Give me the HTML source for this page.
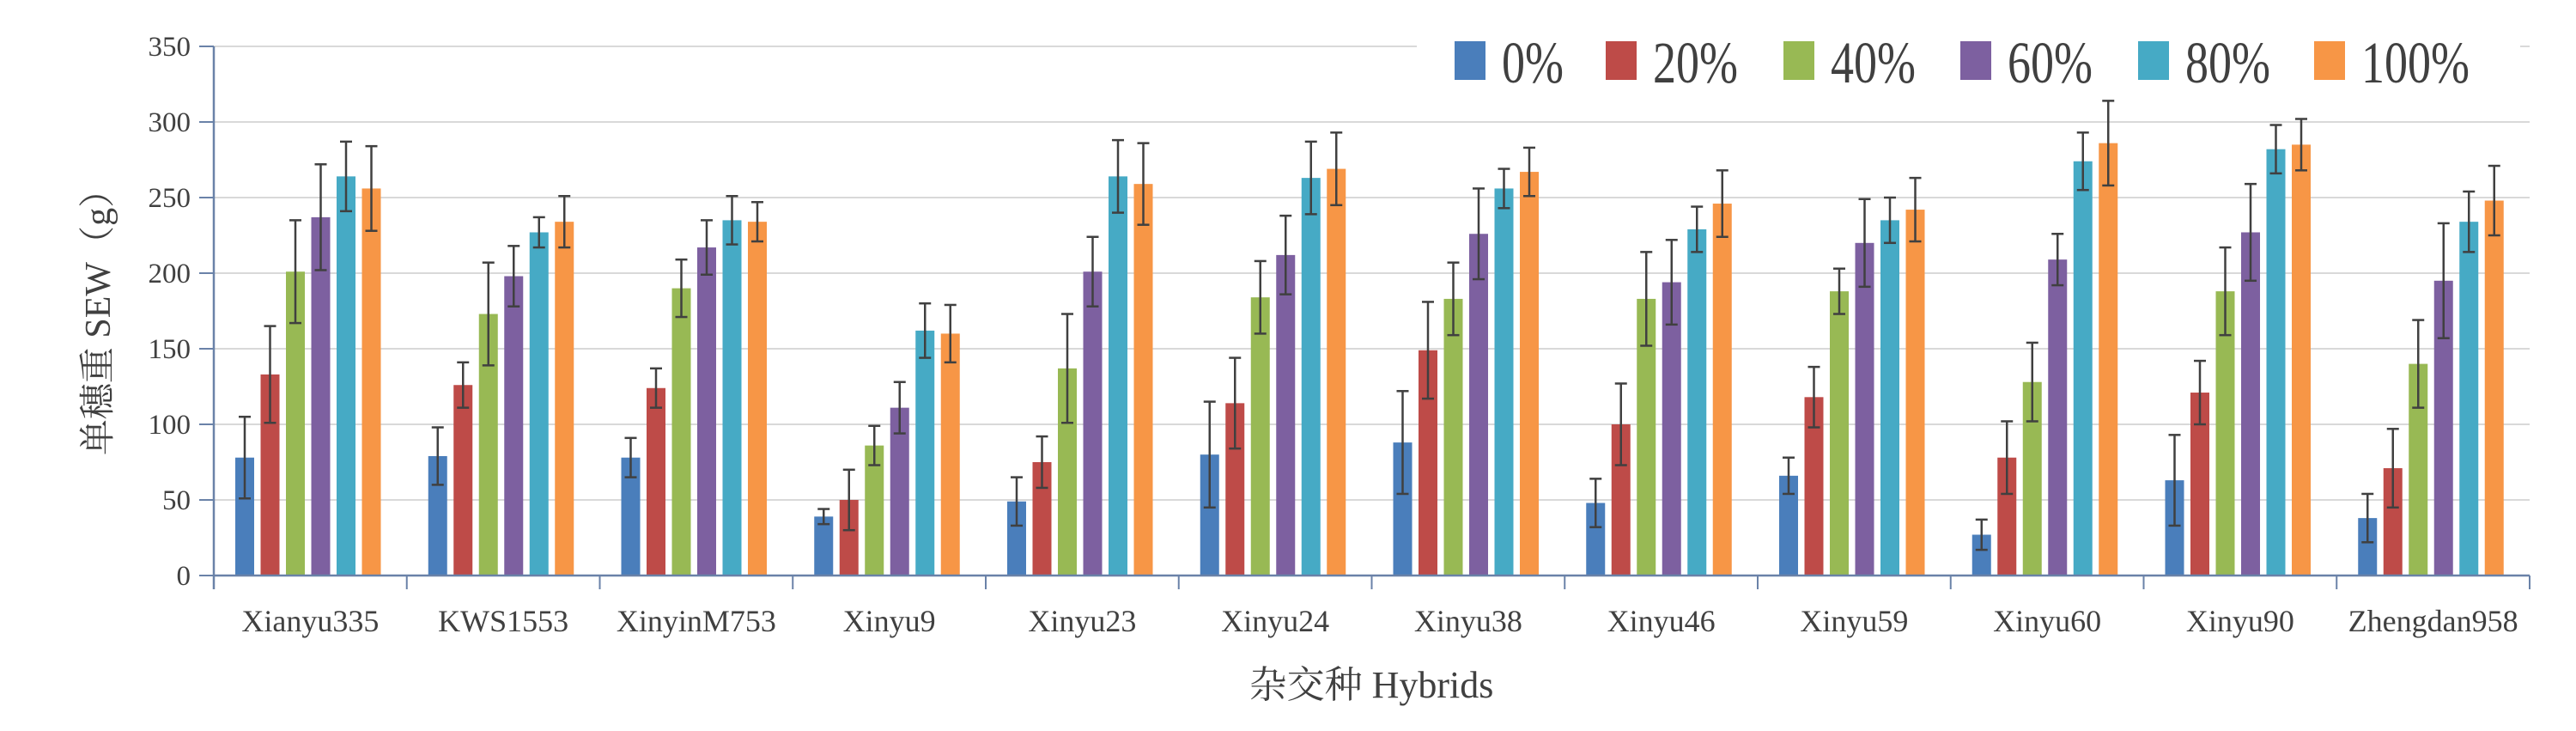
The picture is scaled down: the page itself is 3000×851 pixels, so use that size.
<!DOCTYPE html>
<html><head><meta charset="utf-8"><style>
html,body{margin:0;padding:0;background:#fff;}
svg{display:block;}
text{font-family:"Liberation Serif","Noto Serif CJK SC","Noto Sans CJK SC",serif;fill:#404040;}
</style></head><body>
<svg id="chart" width="3000" height="851" viewBox="0 0 3000 851" xmlns="http://www.w3.org/2000/svg">
<g id="grid"></g>
<g id="bars"></g>
<g id="axes"></g>
<text x="0" y="0" font-size="42" text-anchor="middle" transform="translate(128,365) rotate(-90)">单穗重 SEW（g）</text>
<text x="1597" y="812" font-size="44" text-anchor="middle">杂交种 Hybrids</text>
<g id="legend"></g>
</svg>
<script>
const categories = ["Xianyu335","KWS1553","XinyinM753","Xinyu9","Xinyu23","Xinyu24","Xinyu38","Xinyu46","Xinyu59","Xinyu60","Xinyu90","Zhengdan958"];
const seriesNames = ["0%","20%","40%","60%","80%","100%"];
const s0 = [78,79,78,39,49,80,88,48,66,27,63,38];
const s20 = [133,126,124,50,75,114,149,100,118,78,121,71];
const s40 = [201,173,190,86,137,184,183,183,188,128,188,140];
const s60 = [237,198,217,111,201,212,226,194,220,209,227,195];
const s80 = [264,227,235,162,264,263,256,229,235,274,282,234];
const s100 = [256,234,234,160,259,269,267,246,242,286,285,248];
const e0 = [27,19,13,5,16,35,34,16,12,10,30,16];
const e20 = [32,15,13,20,17,30,32,27,20,24,21,26];
const e40 = [34,34,19,13,36,24,24,31,15,26,29,29];
const e60 = [35,20,18,17,23,26,30,28,29,17,32,38];
const e80 = [23,10,16,18,24,24,13,15,15,19,16,20];
const e100 = [28,17,13,19,27,24,16,22,21,28,17,23];
const yTicks = [0,50,100,150,200,250,300,350];

const series=[s0,s20,s40,s60,s80,s100];
const errs=[e0,e20,e40,e60,e80,e100];
const colors=["#4a7ebb","#be4b48","#98b954","#7d60a0","#46aac5","#f79646"];
const NS="http://www.w3.org/2000/svg";
const X0=249,X1=2946,Y0=670,YMAX=350,PH=616;
const gw=(X1-X0)/categories.length;
const y=v=>Y0-v/YMAX*PH;
const xg=i=>X0+i*gw;
function mk(tag,attrs,parent){const e=document.createElementNS(NS,tag);for(const k in attrs)e.setAttribute(k,attrs[k]);parent.appendChild(e);return e;}
const grid=document.getElementById('grid'),bars=document.getElementById('bars'),axes=document.getElementById('axes'),legend=document.getElementById('legend');
yTicks.forEach(t=>{
  if(t>0){const l=mk('line',{x1:X0,x2:X1,y1:y(t),y2:y(t),stroke:'#d9d9d9','stroke-width':2},grid);
  
  }
  const tk=mk('line',{x1:232,x2:X0,y1:y(t),y2:y(t),stroke:'#6a82a8','stroke-width':2},axes);
  
  
  const tx=mk('text',{x:222,y:y(t)+11,'font-size':33,'text-anchor':'end'},axes);
  tx.textContent=t;
  
  
});
const barW=22,pitch=29.5,off=25;
categories.forEach((c,i)=>{
  series.forEach((s,j)=>{
    const bx=xg(i)+off+j*pitch;
    const r=mk('rect',{x:bx,y:y(s[i]),width:barW,height:Y0-y(s[i]),fill:colors[j]},bars);
    
    
    const cx=bx+barW/2,e=errs[j][i];
    const g=mk('g',{stroke:'#404040','stroke-width':2.5},bars);
    
    
    mk('line',{x1:cx,x2:cx,y1:y(s[i]+e),y2:y(s[i]-e)},g);
    mk('line',{x1:cx-7,x2:cx+7,y1:y(s[i]+e),y2:y(s[i]+e)},g);
    mk('line',{x1:cx-7,x2:cx+7,y1:y(s[i]-e),y2:y(s[i]-e)},g);
  });
  const lb=mk('text',{x:xg(i)+gw/2,y:735,'font-size':36,'text-anchor':'middle'},axes);
  lb.textContent=c;
  
  
});
for(let i=0;i<=categories.length;i++){
  const t=mk('line',{x1:xg(i),x2:xg(i),y1:Y0,y2:Y0+16,stroke:'#6a82a8','stroke-width':2},axes);
  
  
}
const ya=mk('line',{x1:X0,x2:X0,y1:y(350),y2:Y0+16,stroke:'#6a82a8','stroke-width':2.5},axes);


const xa=mk('line',{x1:X0,x2:X1,y1:Y0,y2:Y0,stroke:'#6a82a8','stroke-width':2.5},axes);


// legend
const bg=mk('rect',{x:1650,y:0,width:1285,height:108,fill:'#fff'},legend);


const lx=[1694,1870,2077,2283,2490,2695];
seriesNames.forEach((n,j)=>{
  const g=mk('g',{},legend);
  
  
  mk('rect',{x:lx[j],y:48,width:36,height:45,fill:colors[j]},g);
  const t=mk('text',{x:0,y:0,'font-size':54,transform:'translate('+(lx[j]+55)+',96) scale(1,1.28)'},g);
  t.textContent=n;
});
</script>
</body></html>
